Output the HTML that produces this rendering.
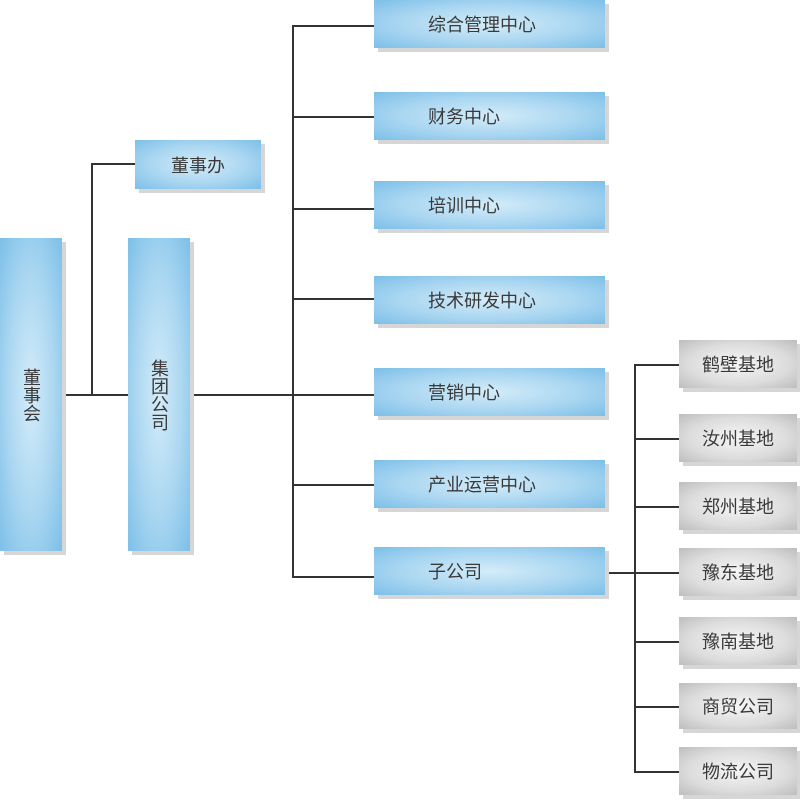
<!DOCTYPE html>
<html><head><meta charset="utf-8"><style>
body{margin:0;width:800px;height:802px;background:#fff;position:relative;overflow:hidden;font-family:"Liberation Sans","Noto Sans CJK SC",sans-serif;color:#3a3a3a;}
.b{position:absolute;box-shadow:4px 4px 0 #d6d6d6;background:radial-gradient(ellipse at center,#d4ecf9 0%,#a9d6f1 55%,#7cbfe8 100%);font-size:18px;display:flex;align-items:center;}
.g{position:absolute;box-shadow:4px 4px 0 #d6d6d6;background:radial-gradient(ellipse at center,#f6f6f6 0%,#dcdcdc 60%,#bdbdbd 100%);font-size:18px;display:flex;align-items:center;justify-content:center;}
.r{left:374px;width:231px;height:48px;padding-left:54px;box-sizing:border-box;}
.v{writing-mode:vertical-rl;justify-content:center;text-orientation:upright;letter-spacing:0px;}
.h{position:absolute;height:1.5px;background:#333;}
.vl{position:absolute;width:1.5px;background:#333;}
</style></head><body>
<div class="vl" style="left:91px;top:163px;height:232px"></div>
<div class="h" style="left:91px;top:163px;width:44px"></div>
<div class="h" style="left:62px;top:394px;width:66px"></div>
<div class="h" style="left:190px;top:394px;width:102px"></div>
<div class="vl" style="left:292px;top:25px;height:552px"></div>
<div class="h" style="left:292px;top:25px;width:82px"></div>
<div class="h" style="left:292px;top:116px;width:82px"></div>
<div class="h" style="left:292px;top:208px;width:82px"></div>
<div class="h" style="left:292px;top:298px;width:82px"></div>
<div class="h" style="left:292px;top:394px;width:82px"></div>
<div class="h" style="left:292px;top:484px;width:82px"></div>
<div class="h" style="left:292px;top:576px;width:82px"></div>
<div class="h" style="left:605px;top:572px;width:29px"></div>
<div class="vl" style="left:634px;top:364px;height:408px"></div>
<div class="h" style="left:634px;top:364px;width:45px"></div>
<div class="h" style="left:634px;top:438px;width:45px"></div>
<div class="h" style="left:634px;top:506px;width:45px"></div>
<div class="h" style="left:634px;top:572px;width:45px"></div>
<div class="h" style="left:634px;top:641px;width:45px"></div>
<div class="h" style="left:634px;top:706px;width:45px"></div>
<div class="h" style="left:634px;top:771px;width:45px"></div>

<div class="b" style="left:135px;top:140px;width:126px;height:49px;justify-content:center">董事办</div>
<div class="b v" style="left:0;top:238px;width:62px;height:313px">董事会</div>
<div class="b v" style="left:128px;top:238px;width:62px;height:313px">集团公司</div>
<div class="b r" style="top:0">综合管理中心</div>
<div class="b r" style="top:92px">财务中心</div>
<div class="b r" style="top:181px">培训中心</div>
<div class="b r" style="top:276px">技术研发中心</div>
<div class="b r" style="top:368px">营销中心</div>
<div class="b r" style="top:460px">产业运营中心</div>
<div class="b r" style="top:547px">子公司</div>
<div class="g" style="left:679px;top:340px;width:118px;height:48px">鹤壁基地</div>
<div class="g" style="left:679px;top:414px;width:118px;height:48px">汝州基地</div>
<div class="g" style="left:679px;top:482px;width:118px;height:48px">郑州基地</div>
<div class="g" style="left:679px;top:548px;width:118px;height:48px">豫东基地</div>
<div class="g" style="left:679px;top:617px;width:118px;height:48px">豫南基地</div>
<div class="g" style="left:679px;top:683px;width:118px;height:46px">商贸公司</div>
<div class="g" style="left:679px;top:747px;width:118px;height:48px">物流公司</div>
</body></html>
